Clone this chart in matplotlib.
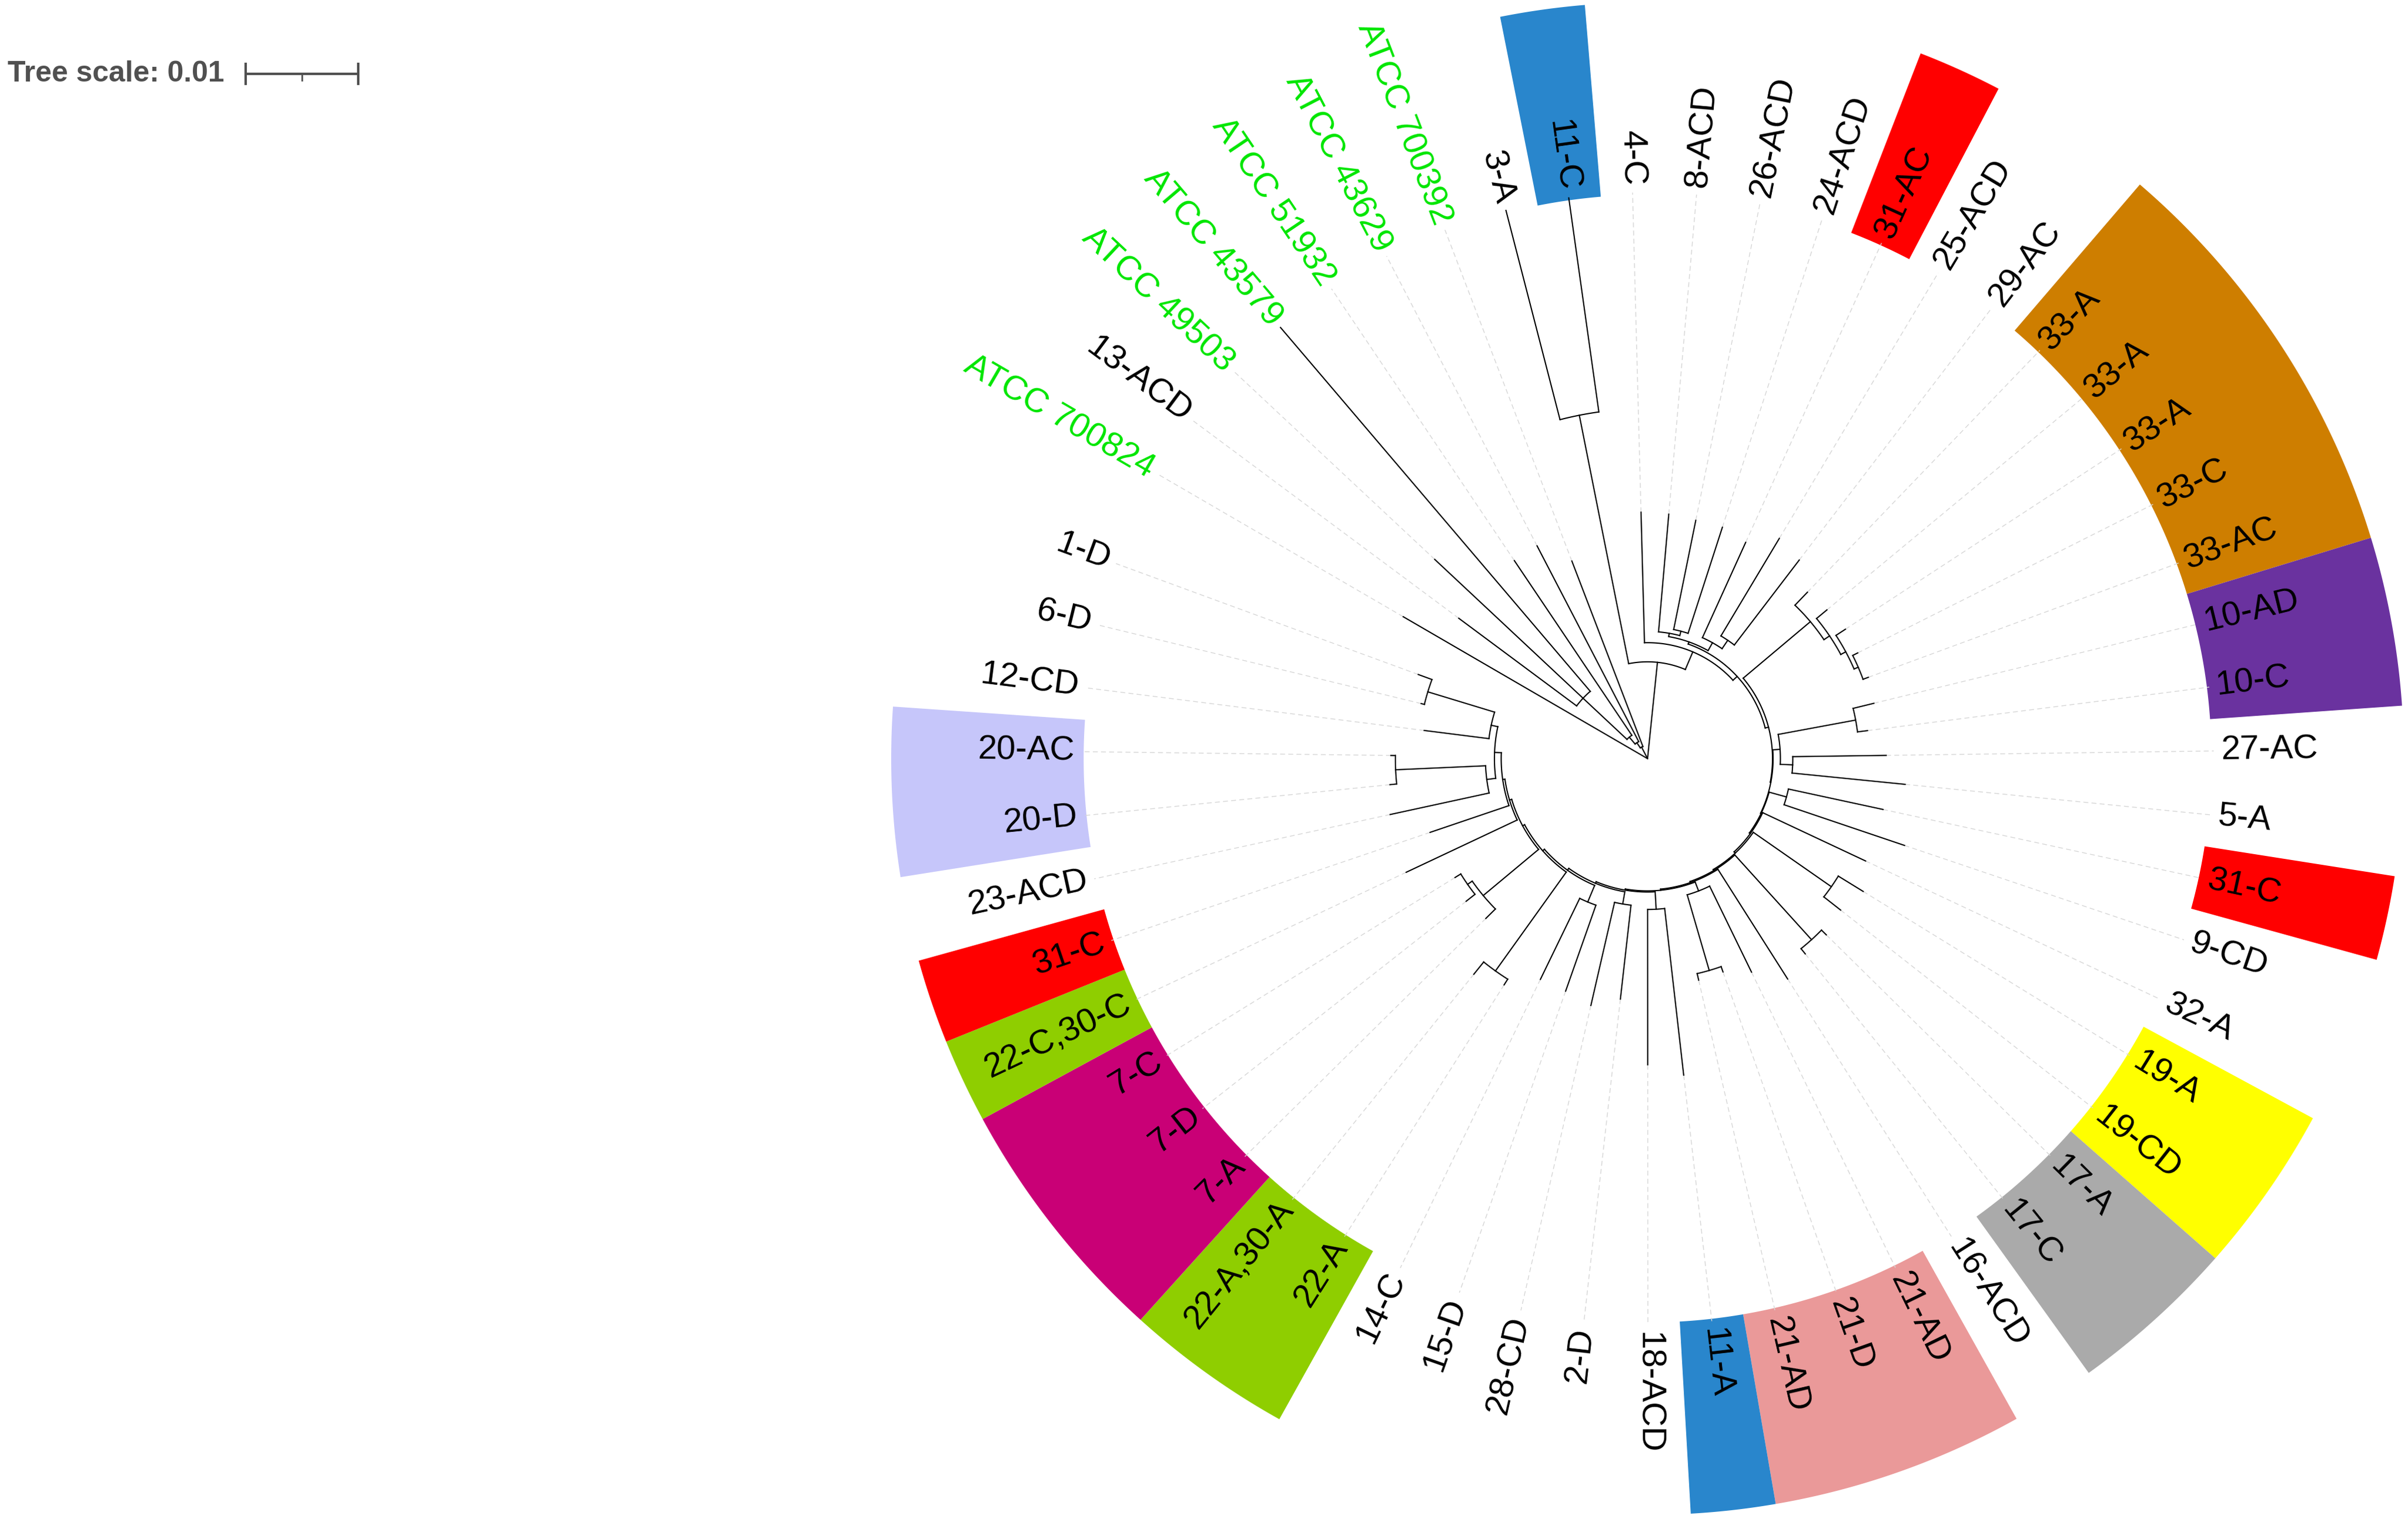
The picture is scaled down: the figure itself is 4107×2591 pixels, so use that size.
import numpy as np
import matplotlib
matplotlib.use("Agg")
import matplotlib.pyplot as plt
from matplotlib.collections import LineCollection
from matplotlib.patches import Polygon

plt.rcParams['font.family'] = ['Liberation Sans', 'DejaVu Sans']

# leaves in circular (clockwise) order, as iTOL lays them out
leaf_names = ['ATCC 700824', '13-ACD', 'ATCC 49503', 'ATCC 43579', 'ATCC 51932',
              'ATCC 43629', 'ATCC 700392',
              '3-A', '11-C', '4-C', '8-ACD', '26-ACD', '24-ACD', '31-AC', '25-ACD',
              '29-AC', '33-A', '33-A', '33-A', '33-C', '33-AC', '10-AD', '10-C',
              '27-AC', '5-A', '31-C', '9-CD', '32-A', '19-A', '19-CD', '17-A', '17-C',
              '16-ACD', '21-AD', '21-D', '21-AD', '11-A', '18-ACD', '2-D', '28-CD',
              '15-D', '14-C', '22-A', '22-A,30-A', '7-A', '7-D', '7-C', '22-C,30-C',
              '31-C', '23-ACD', '20-D', '20-AC', '12-CD', '6-D', '1-D']
# distance from root of each leaf, in units of 0.001
leaf_depth = [25.1, 20.9, 25.9, 50.3, 21.2,
              21.3, 18.8,
              50.3, 50.3, 21.9, 21.8, 21.6, 21.6, 21.1, 22.8,
              22.2, 20.5, 20.7, 21.0, 20.9, 20.9, 20.7, 19.7,
              21.2, 23.0, 21.4, 24.1, 21.4, 22.5, 21.8, 22.3, 22.3,
              23.2, 21.1, 20.1, 20.2, 28.3, 27.2, 21.5, 22.5,
              21.9, 21.8, 23.8, 24.6, 20.2, 20.5, 20.1, 23.7,
              20.4, 23.4, 23.0, 22.8, 20.0, 20.7, 21.7]
green_leaves = [0, 2, 3, 4, 5, 6]

# label background ranges (first leaf, last leaf, colour)
strip_first = [8, 13, 16, 21, 25, 28, 30, 33, 36, 42, 44, 47, 48, 50]
strip_last = [8, 13, 20, 22, 25, 29, 31, 35, 36, 43, 46, 47, 48, 51]
strip_color = ['#2986cc', '#ff0000', '#ce7e00', '#6a329f', '#ff0000', '#ffff00',
               '#aaaaaa', '#ea9999', '#2986cc', '#8fce00', '#c90076', '#8fce00',
               '#ff0000', '#c6c6fa']

# topology: leaves are indices, number after ')' is the node depth (0.001 units)
newick = ("(0,((((1,2,3)7.85,4)2.5,5)1.7,6)1.15,"
          "((7,8)31.1,(9,(((10,(11,12)11.7)11.3,(13,(14,15)12.7)11.8)11.0,"
          "((16,(17,(18,(19,20)20.4)20.0)19.5)18.9,"
          "(((21,22)18.8,(23,24)12.9)11.8,"
          "((25,26)12.8,(27,((28,29)19.9,((30,31)21.7,(32,"
          "((33,(34,35)19.6)12.6,((36,37)13.4,((38,39)13.1,((40,41)13.8,"
          "((42,43)23.2,((44,(45,46)19.5)19.0,(47,(48,"
          "((49,(50,51)22.4)14.4,(52,(53,54)20.4)14.2"
          ")13.6)13.0)12.8)12.6)12.4)12.2)12.0)11.85)11.75)11.65)11.55)11.45)11.3)11.2)"
          "11.15)11.1)10.8)10.3)8.6)0")

CX, CY = 2810, 1294
PX = 19.2                     # pixels per 0.001
ARC = 350.0
START = 149.85
STEP = ARC / (len(leaf_names) - 1)
R_LAB = max(leaf_depth) * PX
R_IN, R_OUT = R_LAB - 4, 1290


def parse(s):
    pos = 0

    def node():
        nonlocal pos
        if s[pos] == '(':
            pos += 1
            kids = [node()]
            while s[pos] == ',':
                pos += 1
                kids.append(node())
            pos += 1
            j = pos
            while pos < len(s) and s[pos] not in ',()':
                pos += 1
            return {'depth': float(s[j:pos]), 'kids': kids}
        j = pos
        while s[pos] not in ',()':
            pos += 1
        i = int(s[j:pos])
        return {'leaf': i, 'depth': leaf_depth[i], 'kids': []}
    return node()


def leaf_angle(i):
    return START - i * STEP


def set_angles(n):
    if not n['kids']:
        n['ang'] = leaf_angle(n['leaf'])
    else:
        for k in n['kids']:
            set_angles(k)
        n['ang'] = 0.5 * (n['kids'][0]['ang'] + n['kids'][-1]['ang'])


def xy(r, a):
    t = np.radians(a)
    return CX + r * np.cos(t), CY - r * np.sin(t)


def arc(r, a0, a1):
    n = max(2, int(abs(a1 - a0) / 0.3) + 1)
    t = np.linspace(a0, a1, n)
    x, y = xy(r, t)
    return np.column_stack([x, y])


segs = []


def collect(n):
    r0 = n['depth'] * PX
    if n['kids'] and r0 > 0:
        segs.append(arc(r0, n['kids'][0]['ang'], n['kids'][-1]['ang']))
    for k in n['kids']:
        r1 = k['depth'] * PX
        segs.append(np.array([xy(r0, k['ang']), xy(r1, k['ang'])]))
        collect(k)


root = parse(newick)
set_angles(root)
collect(root)

fig = plt.figure(figsize=(41.07, 25.91), dpi=100)
ax = fig.add_axes([0, 0, 1, 1])
ax.set_xlim(0, 4107)
ax.set_ylim(2591, 0)
ax.axis('off')

# coloured label backgrounds
for f, l, c in zip(strip_first, strip_last, strip_color):
    a0 = leaf_angle(f) + STEP / 2
    a1 = leaf_angle(l) - STEP / 2
    pts = np.vstack([arc(R_OUT, a0, a1), arc(R_IN, a1, a0)])
    ax.add_patch(Polygon(pts, closed=True, facecolor=c, edgecolor='none', zorder=1))

# dashed leader lines from tips to the label circle
dash = []
for i, d in enumerate(leaf_depth):
    if d * PX < R_LAB - 2:
        dash.append(np.array([xy(d * PX, leaf_angle(i)), xy(R_LAB, leaf_angle(i))]))
ax.add_collection(LineCollection(dash, colors='#d6d6d6', linewidths=1.0,
                                 linestyles=(0, (6, 4)), zorder=2))

ax.add_collection(LineCollection(segs, colors='black', linewidths=1.5,
                                 capstyle='projecting', zorder=3))

# leaf labels
for i, name in enumerate(leaf_names):
    a = leaf_angle(i)
    x, y = xy(R_LAB + 12, a)
    if (a - 88) % 360 < 180:
        rot, ha = a + 180, 'right'
    else:
        rot, ha = a, 'left'
    rot = (rot + 180) % 360 - 180
    col = '#00e600' if i in green_leaves else 'black'
    ax.text(x, y, name, rotation=rot, rotation_mode='anchor', ha=ha, va='center',
            fontsize=42, color=col, zorder=4)

# tree scale
ax.text(13, 126, 'Tree scale: 0.01', fontsize=36, fontweight='bold', color='#505050',
        ha='left', va='center')
x0, x1 = 419, 419 + 10 * PX
ax.plot([x0, x1], [126, 126], color='#505050', lw=3, solid_capstyle='butt')
ax.plot([x0, x0], [109, 143], color='#505050', lw=3)
ax.plot([x1, x1], [109, 143], color='#505050', lw=3)
ax.plot([(x0 + x1) / 2] * 2, [126, 137], color='#505050', lw=2)

fig.savefig('out.png', dpi=100, facecolor='white')
